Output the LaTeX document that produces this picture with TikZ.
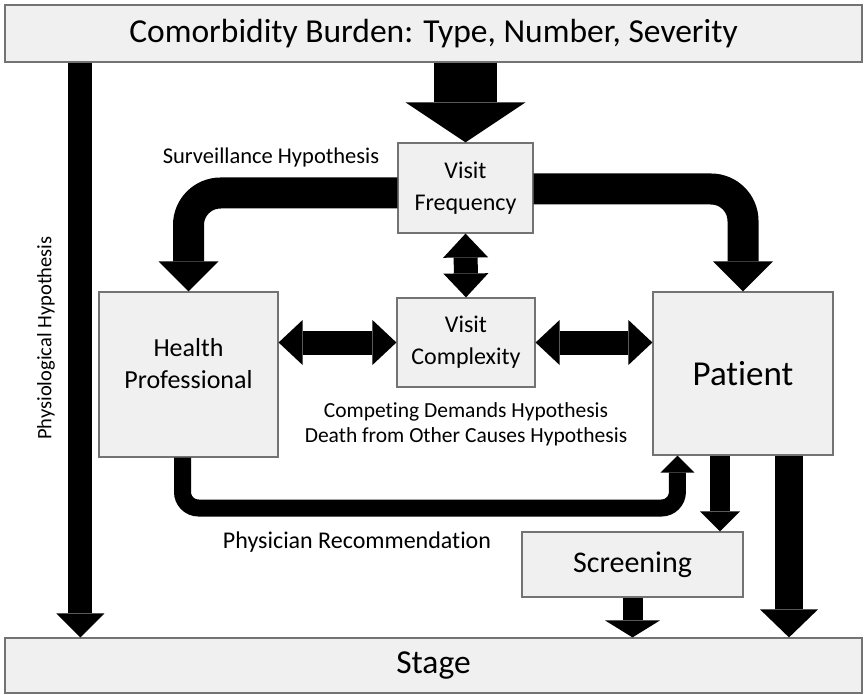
\documentclass[tikz,border=0pt]{standalone}
\usepackage{fontspec}
\setmainfont{Carlito}[RawFeature={-liga;-clig;-calt}]
\usetikzlibrary{calc,arrows.meta}

\newcommand{\fsz}[2]{\fontsize{#1pt}{#2pt}\selectfont}

\begin{document}
\begin{tikzpicture}[x=1pt,y=-1pt]
 \tikzstyle{box}    = [draw=black!55,fill=black!6,line width=1.2pt,inner sep=0pt,align=center];
 \tikzstyle{label}  = [inner sep=0pt,align=center];
 \tikzstyle{fat}    = [line width=31pt,rounded corners=32pt,-{Triangle[length=30pt,width=60pt,line width=0pt]}];
 \tikzstyle{thin}   = [line width=17pt,rounded corners=16pt,-{Triangle[length=17pt,width=34pt,line width=0pt]}];
 \tikzstyle{both}   = [line width=24pt,{Triangle[length=24pt,width=45pt,line width=0pt]}-{Triangle[length=24pt,width=45pt,line width=0pt]}];

 \useasboundingbox (0,0) rectangle (867,695);

 %% top and bottom bands
 \node[box,name=top,minimum width=857pt,minimum height=57pt,font=\fsz{33.5}{40}] at (433.5,33.5) {Comorbidity Burden: Type, Number, Severity};
 \node[box,name=stage,minimum width=857pt,minimum height=55pt,font=\fsz{33.5}{40}] at (433.5,665.5) {Stage};

 %% boxes
 \node[box,name=vf,minimum width=135pt,minimum height=90pt,font=\fsz{24}{32}] at (465.5,188) {Visit\\Frequency};
 \node[box,name=vc,minimum width=138pt,minimum height=89pt,font=\fsz{24}{32}] at (466,342.5) {Visit\\Complexity};
 \node[box,name=hp,minimum width=179pt,minimum height=165pt,font=\fsz{26}{32}] at (188.5,374.5) {Health\\Professional\\[-10pt]};
 \node[box,name=pt,minimum width=180pt,minimum height=163pt,font=\fsz{35}{40}] at (743,373.5) {Patient};
 \node[box,name=sc,minimum width=221pt,minimum height=65pt,font=\fsz{30}{36}] at (632.5,564.5) {Screening};

 %% texts
 \node[label,name=surv,font=\fsz{22.5}{27}] at (271,158) {Surveillance Hypothesis};
 \node[label,name=comp,font=\fsz{21.5}{25}] at (466,424) {Competing Demands Hypothesis\\Death from Other Causes Hypothesis};
 \node[label,name=phrec,font=\fsz{24}{29}] at (357,542) {Physician Recommendation};
 \node[label,name=phys,rotate=90,font=\fsz{20.5}{25}] at (46,338) {Physiological Hypothesis};
 \coordinate (rec) at (430,508);

 %% arrows
 \draw[line width=63pt,-{Triangle[length=40pt,width=120pt,line width=0pt]}] (vf.north |- top.south) -- (vf.north);
 \draw[line width=24pt,-{Triangle[length=24pt,width=48pt,line width=0pt]}] ([xshift=76pt]top.south west) -- ([xshift=76pt]top.south west |- stage.north);
 \draw[fat] ([yshift=-5pt]vf.west) -| (hp.north);
 \draw[fat] ([yshift=-1pt]vf.east) -| (pt.north);
 \draw[both] (vf.south) -- (vc.north);
 \draw[both] (hp.east |- vc.west) -- (vc.west);
 \draw[both] (vc.east) -- (vc.east -| pt.west);
 \draw[thin] ([xshift=-6pt]hp.south) |- (rec) -| ([xshift=25pt]pt.south west);
 \draw[line width=20pt,-{Triangle[length=20pt,width=40pt,line width=0pt]}] ([xshift=-23pt]pt.south) -- ([xshift=-23pt]pt.south |- sc.north);
 \draw[line width=28pt,-{Triangle[length=28pt,width=58pt,line width=0pt]}] ([xshift=46pt]pt.south) -- ([xshift=46pt]pt.south |- stage.north);
 \draw[line width=20pt,-{Triangle[length=17pt,width=55pt,line width=0pt]}] (sc.south) -- (sc.south |- stage.north);

\end{tikzpicture}
\end{document}
